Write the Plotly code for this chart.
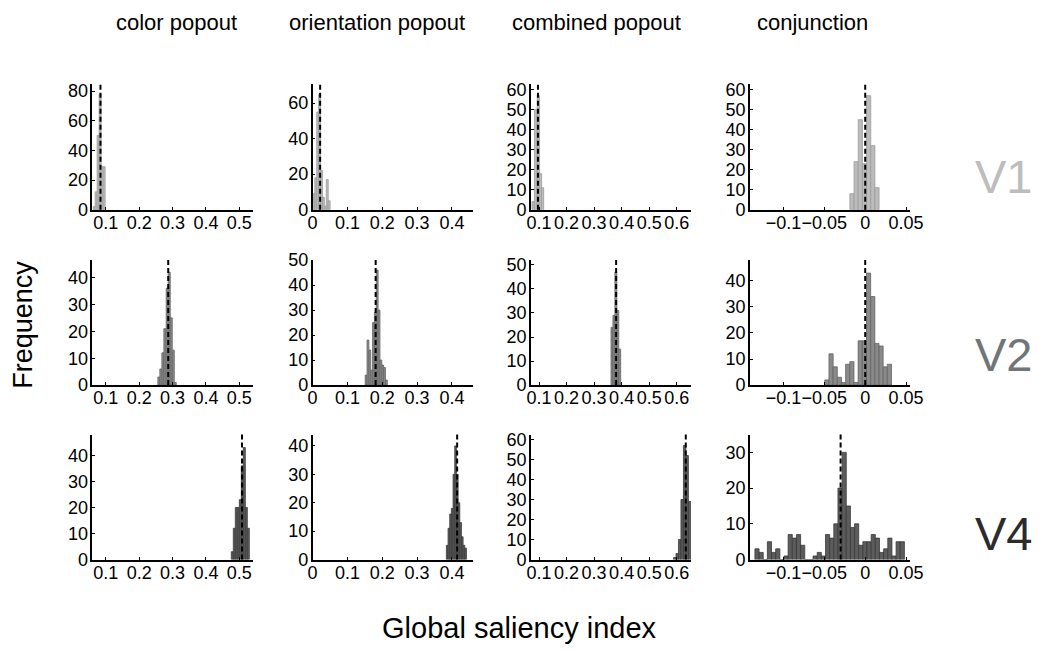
import plotly.graph_objects as go

# ---------------- data ----------------
columns = ["color popout", "orientation popout", "combined popout", "conjunction"]
areas = ["V1", "V2", "V4"]

# bin centres / counts for each panel  (row = area, col = task)
v1_color_x = [0.065, 0.071, 0.077, 0.083, 0.089, 0.095]
v1_color_y = [2, 12, 50, 78, 29, 29]
v1_orient_x = [0.0035, 0.009, 0.0145, 0.020, 0.0255, 0.031, 0.0365, 0.042, 0.0475]
v1_orient_y = [9, 18, 55, 65, 22, 7, 2, 17, 5]
v1_comb_x = [0.0785, 0.0875, 0.0975, 0.105, 0.1125]
v1_comb_y = [4, 50, 57, 18, 11]
v1_conj_x = [-0.0162, -0.0111, -0.0060, -0.0009, 0.0042, 0.0093, 0.0144]
v1_conj_y = [8, 24, 45, 23, 57, 32, 11]

v2_color_x = [0.259, 0.265, 0.271, 0.277, 0.284, 0.290, 0.296, 0.302, 0.308]
v2_color_y = [3, 6, 12, 21, 36, 42, 25, 13, 1]
v2_orient_x = [0.1536, 0.1589, 0.1642, 0.1695, 0.1748, 0.1801, 0.1854, 0.1907, 0.1960, 0.2013, 0.2066, 0.2119]
v2_orient_y = [4, 18, 14, 6, 25, 29, 46, 30, 10, 8, 7, 2]
v2_comb_x = [0.365, 0.372, 0.379, 0.386, 0.393]
v2_comb_y = [24, 29, 47, 31, 15]
v2_conj_x = [-0.0469, -0.0418, -0.0367, -0.0316, -0.0265, -0.0214, -0.0163, -0.0112,
             -0.0061, -0.0010, 0.0041, 0.0092, 0.0143, 0.0194, 0.0245, 0.0296]
v2_conj_y = [2, 12, 7, 3, 1, 8, 9, 1, 17, 17, 43, 34, 16, 15, 7, 8]

v4_color_x = [0.479, 0.485, 0.491, 0.497, 0.503, 0.509, 0.515, 0.521, 0.527]
v4_color_y = [3, 12, 20, 20, 23, 36, 43, 20, 12]
v4_orient_x = [0.3865, 0.3913, 0.3961, 0.4009, 0.4057, 0.4105, 0.4153, 0.4201, 0.4249, 0.4297, 0.4345, 0.4393]
v4_orient_y = [5, 11, 16, 18, 30, 40, 30, 20, 13, 8, 5, 4]
v4_comb_x = [0.593, 0.602, 0.611, 0.620, 0.629, 0.638, 0.647]
v4_comb_y = [1, 3, 10, 30, 57, 52, 29]
v4_conj_x = [-0.1324 + 0.00508 * k for k in range(36)]
v4_conj_y = [3, 2, 0, 5, 2, 3, 0, 1, 7, 6, 7, 4, 0, 0, 1, 2, 1, 7, 6, 10,
             20, 30, 15, 9, 10, 4, 5, 5, 7, 6, 2, 3, 6, 1, 5, 5]

# dashed reference lines (mean of each distribution)
means = [[0.084, 0.0216, 0.096, 0.0],
         [0.287, 0.181, 0.380, 0.0],
         [0.508, 0.415, 0.633, -0.0301]]

bin_widths = [[0.006, 0.0055, 0.0085, 0.0051],
              [0.0062, 0.0053, 0.0071, 0.0051],
              [0.006, 0.0048, 0.009, 0.00508]]

panels = [[(v1_color_x, v1_color_y), (v1_orient_x, v1_orient_y), (v1_comb_x, v1_comb_y), (v1_conj_x, v1_conj_y)],
          [(v2_color_x, v2_color_y), (v2_orient_x, v2_orient_y), (v2_comb_x, v2_comb_y), (v2_conj_x, v2_conj_y)],
          [(v4_color_x, v4_color_y), (v4_orient_x, v4_orient_y), (v4_comb_x, v4_comb_y), (v4_conj_x, v4_conj_y)]]

x_ranges = [[0.06, 0.54], [0.0, 0.46], [0.07, 0.652], [-0.141, 0.055]]
x_tickvals = [[0.1, 0.2, 0.3, 0.4, 0.5], [0, 0.1, 0.2, 0.3, 0.4],
              [0.1, 0.2, 0.3, 0.4, 0.5, 0.6], [-0.1, -0.05, 0, 0.05]]
x_ticktext = [["0.1", "0.2", "0.3", "0.4", "0.5"], ["0", "0.1", "0.2", "0.3", "0.4"],
              ["0.1", "0.2", "0.3", "0.4", "0.5", "0.6"], ["\u22120.1", "\u22120.05", "0", "0.05"]]

y_ranges = [[85, 71, 63, 63], [46.5, 50, 52, 48], [48, 44, 62.5, 35]]
y_dticks = [[20, 20, 10, 10], [10, 10, 10, 10], [10, 10, 10, 10]]

# ---------------- style ----------------
W, H = 1047, 650
col_px = [(89, 252), (313, 476), (535, 698), (758, 921)]
row_px = [(76, 206), (258, 387), (438, 567)]
fills = ["#bcbcbc", "#8a8a8a", "#5c5c5c"]
edges = ["#9a9a9a", "#636363", "#3a3a3a"]
area_colors = ["#bdbdbd", "#70757a", "#2b2b2b"]
FONT = "Liberation Sans, Arial, Helvetica, sans-serif"
TICK = 18

fig = go.Figure()
layout = dict(width=W, height=H, margin=dict(l=0, r=0, t=0, b=0),
              paper_bgcolor="white", plot_bgcolor="white", showlegend=False,
              font=dict(family=FONT, size=TICK, color="black"), shapes=[], annotations=[])

for r in range(3):
    for c in range(4):
        i = r * 4 + c + 1
        xs = "" if i == 1 else str(i)
        xa, ya = "x" + xs, "y" + xs
        px, py = panels[r][c]
        fig.add_trace(go.Bar(x=px, y=py, width=bin_widths[r][c],
                             marker=dict(color=fills[r], line=dict(color=edges[r], width=0.8)),
                             xaxis=xa, yaxis=ya, hoverinfo="x+y"))
        x0, x1 = col_px[c]
        y0, y1 = row_px[r]
        layout["xaxis" + xs] = dict(domain=[x0 / W, x1 / W], anchor=ya, range=x_ranges[c],
                                    tickmode="array", tickvals=x_tickvals[c], ticktext=x_ticktext[c],
                                    tickangle=0,
                                    showline=True, linecolor="black", linewidth=1.5,
                                    ticks="inside", ticklen=3, tickcolor="black",
                                    ticklabelstandoff=-4,
                                    showgrid=False, zeroline=False, tickfont=dict(size=TICK))
        layout["yaxis" + xs] = dict(domain=[1 - y1 / H, 1 - y0 / H], anchor=xa, range=[0, y_ranges[r][c]],
                                    tick0=0, dtick=y_dticks[r][c], tickangle=0,
                                    showline=True, linecolor="black", linewidth=1.5,
                                    ticks="inside", ticklen=3, tickcolor="black",
                                    ticklabelstandoff=-1,
                                    showgrid=False, zeroline=False, tickfont=dict(size=TICK))
        layout["shapes"].append(dict(type="line", xref=xa, yref=ya + " domain",
                                     x0=means[r][c], x1=means[r][c], y0=0, y1=1.0,
                                     line=dict(color="black", width=2, dash="5px,3px")))

title_x = [175, 378, 602, 822]
for c in range(4):
    layout["annotations"].append(dict(text=columns[c], x=title_x[c] / W, y=1 - 13 / H,
                                      xref="paper", yref="paper", showarrow=False,
                                      xanchor="center", yanchor="middle",
                                      font=dict(size=22, color="black")))
area_y = [172, 355, 540]
for r in range(3):
    layout["annotations"].append(dict(text=areas[r], x=1016 / W, y=1 - area_y[r] / H,
                                      xref="paper", yref="paper", showarrow=False,
                                      xanchor="center", yanchor="middle",
                                      font=dict(size=47, color=area_colors[r])))
layout["annotations"].append(dict(text="Frequency", x=18 / W, y=1 - 325 / H, xref="paper", yref="paper",
                                  showarrow=False, textangle=-90, xanchor="center", yanchor="middle",
                                  font=dict(size=27, color="black")))
layout["annotations"].append(dict(text="Global saliency index", x=524 / W, y=1 - 638 / H,
                                  xref="paper", yref="paper", showarrow=False,
                                  xanchor="center", yanchor="middle",
                                  font=dict(size=29, color="black")))

fig.update_layout(**layout)
fig.write_html("out.html")
